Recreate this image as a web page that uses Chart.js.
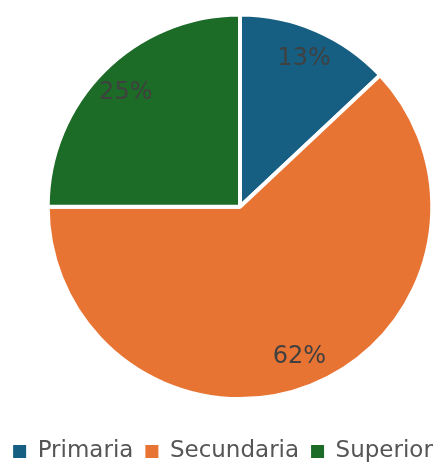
<!DOCTYPE html>
<html>
<head>
<meta charset="utf-8">
<script src="https://cdn.jsdelivr.net/npm/chart.js@4.4.1/dist/chart.umd.min.js"></script>
<style>
  html, body { margin: 0; padding: 0; background: #fff; }
  #wrap { position: relative; width: 446px; height: 462px; }
</style>
</head>
<body>
<div id="wrap"><canvas id="pieChart"></canvas></div>
<script>
// Data
const categories = ["Primaria", "Secundaria", "Superior"];
const shares = [13, 62, 25];

// Styles
const sliceColors = ["#165f82", "#e87434", "#1c6b27"];
const FONT = "'DejaVu Sans', Verdana, sans-serif";

// Percent labels drawn inside each slice
const pctLabels = {
  id: "pctLabels",
  afterDatasetsDraw(chart) {
    const ctx = chart.ctx;
    const meta = chart.getDatasetMeta(0);
    const values = chart.data.datasets[0].data;
    ctx.save();
    ctx.font = `24px ${FONT}`;
    ctx.fillStyle = "#404040";
    ctx.textAlign = "center";
    ctx.textBaseline = "middle";
    meta.data.forEach((arc, i) => {
      const p = arc.getProps(["x", "y", "startAngle", "endAngle", "outerRadius"], true);
      const mid = (p.startAngle + p.endAngle) / 2;
      const r = p.outerRadius * 0.84;
      ctx.fillText(values[i] + "%", p.x + Math.cos(mid) * r, p.y + Math.sin(mid) * r);
    });
    ctx.restore();
  }
};

document.addEventListener("DOMContentLoaded", () => {
  const ctx = document.getElementById("pieChart").getContext("2d");
  new Chart(ctx, {
    type: "pie",
    data: {
      labels: categories,
      datasets: [{
        data: shares,
        backgroundColor: sliceColors,
        borderColor: "#ffffff",
        borderWidth: 4,
        hoverBorderWidth: 4
      }]
    },
    options: {
      responsive: true,
      maintainAspectRatio: false,
      animation: false,
      layout: { padding: 0 },
      plugins: {
        tooltip: { enabled: false },
        // empty side titles only reserve room so the pie sits where the original does
        title: {
          display: true, text: "", position: "left", fullSize: false,
          font: { size: 10, lineHeight: 1 }, padding: { top: 0, bottom: 35.7 }
        },
        subtitle: {
          display: true, text: "", position: "right", fullSize: false,
          font: { size: 10, lineHeight: 1 }, padding: { top: 0, bottom: 1.7 }
        },
        legend: {
          position: "bottom",
          maxHeight: 48.4,
          title: { display: true, text: "", font: { size: 12, lineHeight: 1.2 }, padding: 0 },
          labels: {
            boxWidth: 13,
            boxHeight: 13,
            padding: 12,
            color: "#555555",
            font: { family: FONT, size: 23 },
            generateLabels(chart) {
              const items = Chart.DoughnutController.overrides.plugins.legend.labels.generateLabels(chart);
              items.forEach(it => { it.lineWidth = 0; });
              return items;
            }
          }
        }
      }
    },
    plugins: [pctLabels]
  });
});
</script>
</body>
</html>
